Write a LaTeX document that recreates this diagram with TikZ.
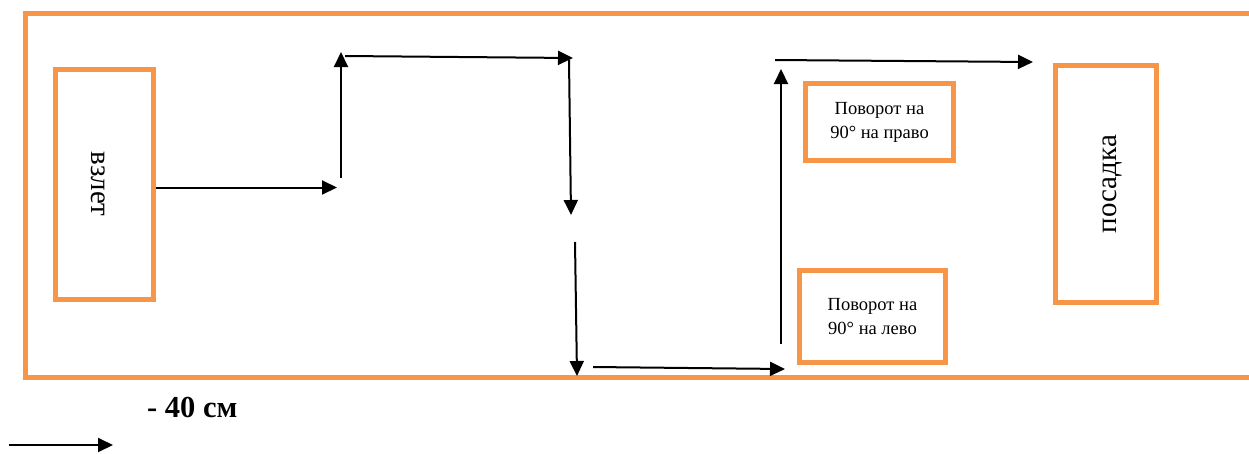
\documentclass[tikz,border=0pt]{standalone}
\usepackage{fontspec}
\setmainfont{Liberation Serif}
\usetikzlibrary{arrows.meta}
\definecolor{frameorange}{HTML}{F79646}
\begin{document}
\begin{tikzpicture}[x=1pt,y=-1pt,
  orangebox/.style={draw=frameorange,line width=5pt,inner sep=0pt},
  flow/.style={line width=2pt,-{Triangle[length=15pt,width=14pt]}},
  smalltext/.style={font=\fontsize{18.5}{24}\selectfont,align=center},
  bigtext/.style={font=\fontsize{29}{32}\selectfont}]
\useasboundingbox (0,0) rectangle (1249,453);
% outer frame (open on the right)
\draw[draw=frameorange,line width=5pt] (1249,13.5) -- (25,13.5) -- (25,377.5) -- (1249,377.5);
% boxes
\node[orangebox,minimum width=98pt,minimum height=230pt] (takeoff) at (104.5,184) {};
\node[bigtext,rotate=-90] (takeofftext) at (98,184) {взлет};
\node[orangebox,minimum width=101pt,minimum height=237pt] (landing) at (1106,184) {};
\node[bigtext,rotate=90] (landingtext) at (1112,184) {посадка};
\node[orangebox,minimum width=148pt,minimum height=77pt] (right) at (879.5,122) {};
\node[smalltext] (righttext) at (879.5,122) {Поворот на\\90° на право};
\node[orangebox,minimum width=146pt,minimum height=92pt] (left) at (872.5,316.5) {};
\node[smalltext] (lefttext) at (872.5,316.5) {Поворот на\\90° на лево};
% path coordinates
\coordinate (a1s) at (156,187.5);
\coordinate (a1e) at (337,187.5);
\coordinate (a2s) at (341,178);
\coordinate (a2e) at (341,52);
\coordinate (a3s) at (345,56);
\coordinate (a3e) at (573,58);
\coordinate (a4s) at (569,60);
\coordinate (a4e) at (571,215);
\coordinate (a5s) at (575,242);
\coordinate (a5e) at (577,376);
\coordinate (a6s) at (593,367);
\coordinate (a6e) at (785,369);
\coordinate (a7s) at (781,344);
\coordinate (a7e) at (781,69);
\coordinate (a8s) at (775,60);
\coordinate (a8e) at (1033,62);
\draw[flow] (a1s) -- (a1e);
\draw[flow] (a2s) -- (a2e);
\draw[flow] (a3s) -- (a3e);
\draw[flow] (a4s) -- (a4e);
\draw[flow] (a5s) -- (a5e);
\draw[flow] (a6s) -- (a6e);
\draw[flow] (a7s) -- (a7e);
\draw[flow] (a8s) -- (a8e);
% legend
\coordinate (legs) at (9,445);
\coordinate (lege) at (113,445);
\draw[flow] (legs) -- (lege);
\node[font=\fontsize{30.5}{33}\selectfont\bfseries,anchor=base west,inner sep=0pt] (legtext) at (147,417) {- 40 см};
\end{tikzpicture}
\end{document}
